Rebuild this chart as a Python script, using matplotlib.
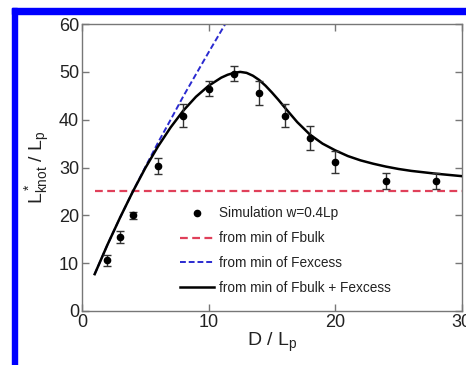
import numpy as np
import matplotlib
matplotlib.use("Agg")
import matplotlib.pyplot as plt
from matplotlib.patches import Rectangle

plt.rcParams['font.family'] = ['Liberation Sans', 'DejaVu Sans']
plt.rcParams['mathtext.fontset'] = 'custom'
plt.rcParams['mathtext.rm'] = 'Liberation Sans'
plt.rcParams['mathtext.it'] = 'Liberation Sans'

# simulation points (D / Lp, L*knot / Lp, error)
sim_x = [2, 3, 4, 6, 8, 10, 12, 14, 16, 18, 20, 24, 28]
sim_y = [10.6, 15.5, 20.0, 30.3, 40.8, 46.5, 49.6, 45.6, 40.8, 36.1, 31.2, 27.2, 27.2]
sim_err = [1.2, 1.3, 0.8, 1.7, 2.4, 1.6, 1.6, 2.5, 2.4, 2.5, 2.3, 1.6, 1.6]

# from min of Fbulk
bulk_x = [1, 30]
bulk_y = [25, 25]

# from min of Fexcess
exc_x = [1, 2, 3, 4, 5, 6, 7, 8, 9, 10, 11, 11.4]
exc_y = [7.7, 13.8, 19.5, 24.9, 30.1, 35.2, 40.0, 44.9, 49.5, 54.1, 58.6, 60.4]

# from min of Fbulk + Fexcess
tot_x = [1, 2, 3, 4, 5, 6, 7, 8, 9, 10, 11, 11.5, 12, 12.5, 13, 13.5, 14, 14.5,
         15, 15.5, 16, 17, 18, 19, 20, 21, 22, 23, 24, 25, 26, 27, 28, 29, 30]
tot_y = [7.7, 13.8, 19.5, 24.9, 29.9, 34.4, 38.4, 41.9, 44.8, 47.1, 48.8, 49.4,
         49.8, 50.0, 49.8, 49.2, 48.3, 47.1, 45.7, 44.2, 42.6, 39.5, 36.9, 35.0,
         33.6, 32.4, 31.5, 30.8, 30.2, 29.7, 29.3, 29.0, 28.7, 28.45, 28.2]

fig = plt.figure(figsize=(4.66, 3.65), dpi=100)
ax = fig.add_axes([0.176, 0.148, 0.815, 0.786])

# blue frame pieces along top and left
fig.patches.append(Rectangle((12 / 466, 1 - 14 / 365), 1, 6 / 365,
                             transform=fig.transFigure, color='#0000ff', zorder=0))
fig.patches.append(Rectangle((12 / 466, 0), 4.5 / 466, 1 - 8 / 365,
                             transform=fig.transFigure, color='#0000ff', zorder=0))

sim = ax.errorbar(sim_x, sim_y, yerr=sim_err, fmt='o', color='black', ms=4.5,
                  ecolor='#333333', elinewidth=1, capsize=3, capthick=1,
                  zorder=4)
l_bulk, = ax.plot(bulk_x, bulk_y, '--', color='#e0405a', lw=1.6, dashes=(3.5, 2))
l_exc, = ax.plot(exc_x, exc_y, '--', color='#2a2ad0', lw=1.4, dashes=(3, 1.5))
l_tot, = ax.plot(tot_x, tot_y, '-', color='black', lw=1.8, zorder=3)

ax.set_xlim(0, 30)
ax.set_ylim(0, 60)
ax.set_xticks([0, 10, 20, 30])
ax.set_yticks([0, 10, 20, 30, 40, 50, 60])
ax.tick_params(direction='in', top=True, right=True, length=5, width=1,
               labelsize=13, colors='#777777', labelcolor='#222222', pad=2)
for s in ax.spines.values():
    s.set_color('#777777')
    s.set_linewidth(1)

ax.set_xlabel('D / L$_\\mathrm{p}$', fontsize=14, color='#222222', labelpad=0)
ax.set_ylabel('$\\mathrm{L^*_{knot}}$ / L$_\\mathrm{p}$', fontsize=14,
              color='#222222', labelpad=5)

# legend marker without the error bar
dot, = ax.plot([], [], 'o', color='black', ms=4.5)
leg = ax.legend([dot, l_bulk, l_exc, l_tot],
                ['Simulation w=0.4Lp', 'from min of Fbulk', 'from min of Fexcess',
                 'from min of Fbulk + Fexcess'],
                loc='center', bbox_to_anchor=(0.535, 0.21),
                frameon=False, fontsize=9.8, handlelength=2.5,
                handletextpad=0.35, labelspacing=0.8)
for t in leg.get_texts():
    t.set_color('#222222')

fig.savefig('out.png', dpi=100)
